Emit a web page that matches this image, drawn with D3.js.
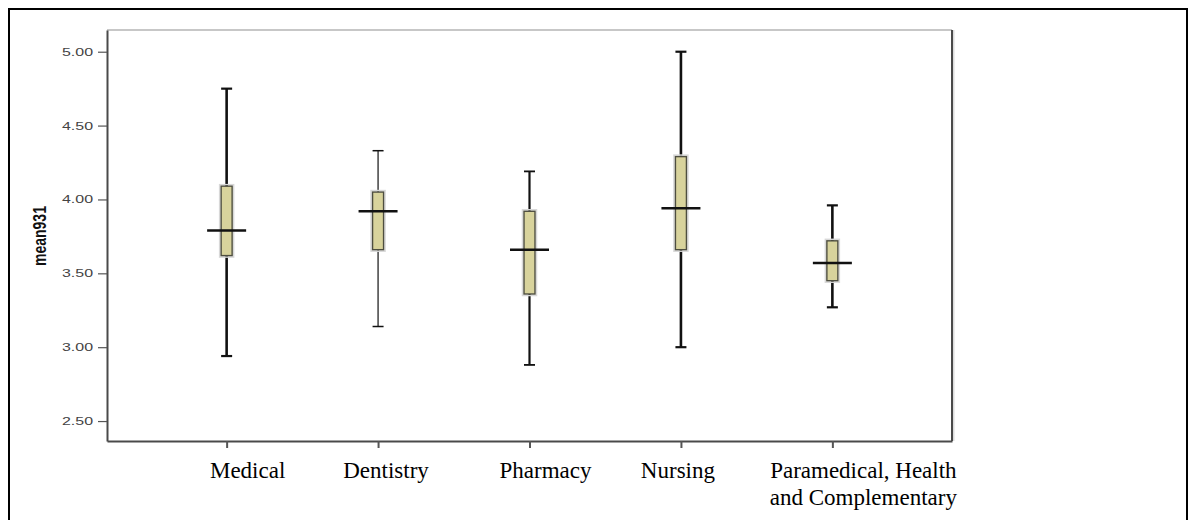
<!DOCTYPE html>
<html>
<head>
<meta charset="utf-8">
<script src="https://cdn.jsdelivr.net/npm/d3@7"></script>
<style>
  body { margin: 0; background: #fff; }
</style>
</head>
<body>
<div class="chart"></div>
<script>
// faculties on the x axis
var categories = ["Medical", "Dentistry", "Pharmacy", "Nursing", "Paramedical, Health|and Complementary"];

// box plot values
var minVals = [2.94, 3.14, 2.88, 3.00, 3.27];
var q1Vals = [3.62, 3.66, 3.36, 3.66, 3.45];
var medians = [3.79, 3.92, 3.66, 3.94, 3.57];
var q3Vals = [4.09, 4.05, 3.92, 4.29, 3.72];
var maxVals = [4.75, 4.33, 4.19, 5.00, 3.96];

var yTicks = [2.5, 3.0, 3.5, 4.0, 4.5, 5.0];

// look of the separate pieces
var whiskerWidth = [2.6, 1.2, 2.2, 2.6, 2.6];
var labelShift = [21, 8, 16, -3, 31];

var width = 1197, height = 520;
var plotLeft = 107, plotRight = 952, plotTop = 30, plotBottom = 441;

var svg = d3.select(".chart")
  .append("svg")
    .attr("width", width)
    .attr("height", height);

// outer frame, bottom edge runs off the page
svg.append("rect")
  .attr("x", 9).attr("y", 9)
  .attr("width", 1178).attr("height", 530)
  .style("fill", "none")
  .style("stroke", "#000")
  .style("stroke-width", 2);

var x = d3.scalePoint()
  .domain(categories)
  .range([plotLeft, plotRight])
  .padding(0.79);

var y = d3.scaleLinear()
  .domain([2.365, 5.147])
  .range([plotBottom, plotTop]);

// plot box: light top, dark right
svg.append("line")
  .attr("x1", plotLeft).attr("x2", plotRight)
  .attr("y1", plotTop).attr("y2", plotTop)
  .style("stroke", "#b4b4b4").style("stroke-width", 1.5);
svg.append("line")
  .attr("x1", plotRight + 1.5).attr("x2", plotRight + 1.5)
  .attr("y1", plotTop).attr("y2", plotBottom)
  .style("stroke", "#dcdcdc").style("stroke-width", 2);
svg.append("line")
  .attr("x1", plotRight).attr("x2", plotRight)
  .attr("y1", plotTop).attr("y2", plotBottom)
  .style("stroke", "#4a4a4a").style("stroke-width", 2);

var yAxis = svg.append("g")
  .attr("transform", "translate(" + plotLeft + ",0)")
  .call(d3.axisLeft(y)
    .tickValues(yTicks)
    .tickFormat(d3.format(".2f"))
    .tickSize(9)
    .tickSizeOuter(0));

yAxis.select(".domain").style("stroke", "#4a4a4a").style("stroke-width", 2);
yAxis.selectAll(".tick line").style("stroke", "#555").style("stroke-width", 1.2);
yAxis.selectAll(".tick text")
  .attr("x", -14 / 1.45)
  .attr("transform", "scale(1.45,1)")
  .style("font-family", "'Liberation Sans', Arial, sans-serif")
  .style("font-size", "11px")
  .style("fill", "#444");

var xAxis = svg.append("g")
  .attr("transform", "translate(0," + plotBottom + ")")
  .call(d3.axisBottom(x)
    .tickSize(7)
    .tickSizeOuter(0)
    .tickFormat(""));

xAxis.select(".domain").style("stroke", "#4a4a4a").style("stroke-width", 2);
xAxis.selectAll(".tick line").style("stroke", "#555").style("stroke-width", 2);

// y title, a little wide like the stretched source
svg.append("text")
  .attr("transform", "translate(46,236) rotate(-90) scale(1,1.3)")
  .attr("text-anchor", "middle")
  .style("font-family", "'Liberation Sans', Arial, sans-serif")
  .style("font-weight", "bold")
  .style("font-size", "14px")
  .style("fill", "#111")
  .text("mean931");

// x labels, set in Times like the source
var labels = svg.append("g");
categories.forEach(function (c, i) {
  var t = labels.append("text")
    .attr("text-anchor", "middle")
    .attr("y", 478)
    .style("font-family", "'Liberation Serif', 'Times New Roman', serif")
    .style("font-size", "23px")
    .style("fill", "#000");
  c.split("|").forEach(function (line, j) {
    t.append("tspan")
      .attr("x", x(c) + labelShift[i])
      .attr("dy", j === 0 ? 0 : 27)
      .text(line);
  });
});

var boxW = 11, medW = 39;

var boxes = svg.selectAll(".box")
  .data(categories)
  .enter()
  .append("g")
    .attr("class", "box");

// whiskers
boxes.append("line")
  .attr("x1", d => x(d)).attr("x2", d => x(d))
  .attr("y1", (d, i) => y(maxVals[i]))
  .attr("y2", (d, i) => y(minVals[i]))
  .style("stroke", "#111")
  .style("stroke-width", (d, i) => whiskerWidth[i]);

// caps
[maxVals, minVals].forEach(function (vals) {
  boxes.append("line")
    .attr("x1", d => x(d) - boxW / 2).attr("x2", d => x(d) + boxW / 2)
    .attr("y1", (d, i) => y(vals[i])).attr("y2", (d, i) => y(vals[i]))
    .style("stroke", "#111")
    .style("stroke-width", (d, i) => Math.max(1.5, whiskerWidth[i] - 0.4));
});

// soft halo round the box
boxes.append("rect")
  .attr("x", d => x(d) - boxW / 2 - 1.5)
  .attr("width", boxW + 3)
  .attr("y", (d, i) => y(q3Vals[i]) - 1.5)
  .attr("height", (d, i) => y(q1Vals[i]) - y(q3Vals[i]) + 3)
  .style("fill", "none")
  .style("stroke", "#d8d8d8")
  .style("stroke-width", 1.5);

boxes.append("rect")
  .attr("x", d => x(d) - boxW / 2)
  .attr("width", boxW)
  .attr("y", (d, i) => y(q3Vals[i]))
  .attr("height", (d, i) => y(q1Vals[i]) - y(q3Vals[i]))
  .style("fill", "#d8d39c")
  .style("stroke", "#4e4e40")
  .style("stroke-width", 1.4);

// median
boxes.append("line")
  .attr("x1", d => x(d) - medW / 2).attr("x2", d => x(d) + medW / 2)
  .attr("y1", (d, i) => y(medians[i])).attr("y2", (d, i) => y(medians[i]))
  .style("stroke", "#111")
  .style("stroke-width", 2.6);
</script>
</body>
</html>
